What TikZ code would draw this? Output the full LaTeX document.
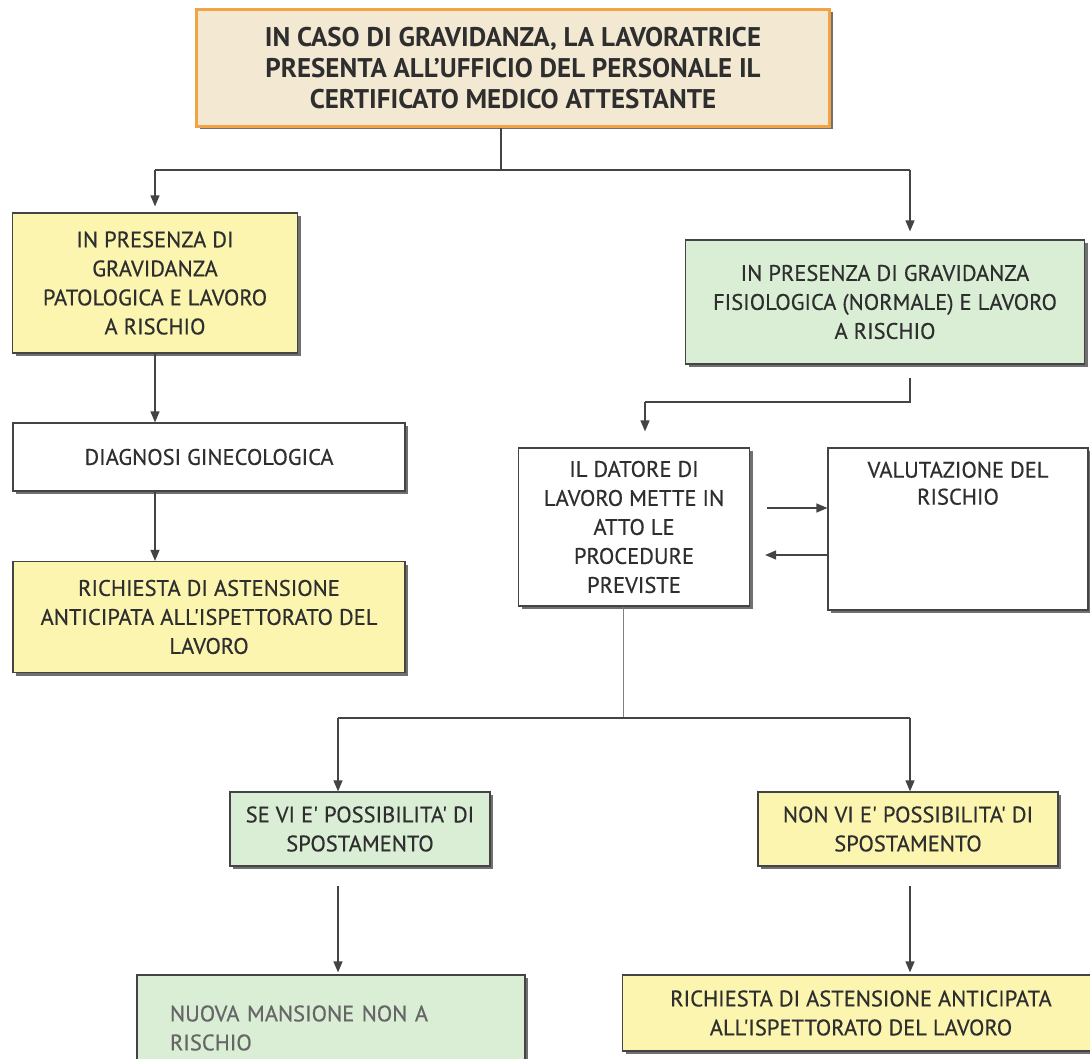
\documentclass[tikz,border=0pt]{standalone}
\usepackage{fontspec}
\setmainfont{PT Sans}
\newfontfamily\boxfont{PT Sans}[FakeBold=0.5]
\usetikzlibrary{arrows.meta, positioning, shadows, calc}

\definecolor{boxyellow}{HTML}{FBF5B0}
\definecolor{boxgreen}{HTML}{DAEED6}
\definecolor{parchment}{HTML}{F3E9D3}
\definecolor{borderorange}{HTML}{F2A445}
\definecolor{inkgray}{HTML}{2E2E2E}
\definecolor{linegray}{HTML}{444444}

\tikzset{
  stepbox/.style={rectangle, draw=linegray, line width=1.2pt, align=center, text=inkgray,
    inner sep=0pt, font=\boxfont\fontsize{22.5}{29}\selectfont,
    drop shadow={shadow xshift=3pt, shadow yshift=-3pt, fill=black!70, opacity=0.8}},
  yellowbox/.style={stepbox, fill=boxyellow},
  greenbox/.style={stepbox, fill=boxgreen},
  whitebox/.style={stepbox, fill=white},
  headbox/.style={stepbox, fill=parchment, draw=borderorange, line width=3pt,
    font=\bfseries\fontsize{27}{31}\selectfont},
  link/.style={draw=linegray, line width=1.3pt},
  arr/.style={link, -{Triangle[length=11pt,width=9pt]}},
}

\begin{document}
\begin{tikzpicture}[x=1pt, y=-1pt]
\useasboundingbox (0,0) rectangle (1090,1059);
\clip (0,0) rectangle (1090,1059);

% boxes
\node[headbox, minimum width=633pt, minimum height=117pt] (head) at (513,68)
  {IN CASO DI GRAVIDANZA, LA LAVORATRICE\\PRESENTA ALL'UFFICIO DEL PERSONALE IL\\CERTIFICATO MEDICO ATTESTANTE};

\node[yellowbox, minimum width=285pt, minimum height=140pt] (pat) at (155,283)
  {IN PRESENZA DI\\GRAVIDANZA\\PATOLOGICA E LAVORO\\A RISCHIO};
\node[whitebox, minimum width=392pt, minimum height=68pt] (diag) at (209,457)
  {DIAGNOSI GINECOLOGICA};
\node[yellowbox, minimum width=392pt, minimum height=111pt] (richpat) at (209,617)
  {RICHIESTA DI ASTENSIONE\\ANTICIPATA ALL'ISPETTORATO DEL\\LAVORO};

\node[greenbox, minimum width=399pt, minimum height=124pt] (fis) at (885,302)
  {IN PRESENZA DI GRAVIDANZA\\FISIOLOGICA (NORMALE) E LAVORO\\A RISCHIO};
\node[whitebox, minimum width=231pt, minimum height=158pt] (datore) at (634,527)
  {IL DATORE DI\\LAVORO METTE IN\\ATTO LE\\PROCEDURE\\PREVISTE};
\node[whitebox, minimum width=260pt, minimum height=162pt] (valut) at (958,529) {};
\node[align=center, text=inkgray, inner sep=0pt, font=\boxfont\fontsize{22.5}{27}\selectfont,
  below=14pt of valut.north] (valutlabel) {VALUTAZIONE DEL\\RISCHIO};

\node[greenbox, minimum width=260pt, minimum height=74pt] (sevi) at (360,829)
  {SE VI E' POSSIBILITA' DI\\SPOSTAMENTO};
\node[yellowbox, minimum width=300pt, minimum height=74pt] (nonvi) at (908,829)
  {NON VI E' POSSIBILITA' DI\\SPOSTAMENTO};

\node[greenbox, minimum width=388pt, minimum height=106pt, text width=322pt, align=left,
  text=black!60] (nuova) at (331,1028)
  {NUOVA MANSIONE NON A\\RISCHIO};
\node[yellowbox, minimum width=477pt, minimum height=76pt] (richfis) at (861,1013)
  {RICHIESTA DI ASTENSIONE ANTICIPATA\\ALL'ISPETTORATO DEL LAVORO};

% junctions
\coordinate (j1) at (501,170);
\coordinate (j1l) at (155,170);
\coordinate (j1r) at (910,170);
\coordinate (j2r) at (910,402);
\coordinate (j2l) at (645,402);
\coordinate (j3) at (623,718);
\coordinate (j3l) at (338,718);
\coordinate (j3r) at (910,718);

% connectors
\draw[link] (head.south -| j1) -- (j1);
\draw[link] (j1l) -- (j1r);
\draw[arr] (j1l) -- ($(pat.north)+(0,-6)$);
\draw[arr] (j1r) -- ($(fis.north -| j1r)+(0,-8)$);

\draw[arr] (pat.south) -- (pat.south |- diag.north);
\draw[arr] (diag.south -| pat.south) -- (richpat.north -| pat.south);

\draw[link] ($(fis.south -| j2r)+(0,13)$) -- (j2r) -- (j2l);
\draw[arr] (j2l) -- ($(datore.north -| j2l)+(0,-16)$);

\draw[arr] ($(datore.east)+(17,-19)$) -- ($(valut.west)+(0,-21)$);
\draw[arr] ($(valut.west)+(0,26)$) -- ($(datore.east)+(15,28)$);

\draw[link, draw=gray, line width=0.9pt] (datore.south -| j3) -- (j3);
\draw[link] (j3l) -- (j3r);
\draw[arr] (j3l) -- (sevi.north -| j3l);
\draw[arr] (j3r) -- (nonvi.north -| j3r);

\draw[arr] ($(sevi.south -| j3l)+(0,19)$) -- ($(nuova.north -| j3l)+(0,-2)$);
\draw[arr] ($(nonvi.south -| j3r)+(0,19)$) -- ($(richfis.north -| j3r)+(0,-2)$);
\end{tikzpicture}
\end{document}
